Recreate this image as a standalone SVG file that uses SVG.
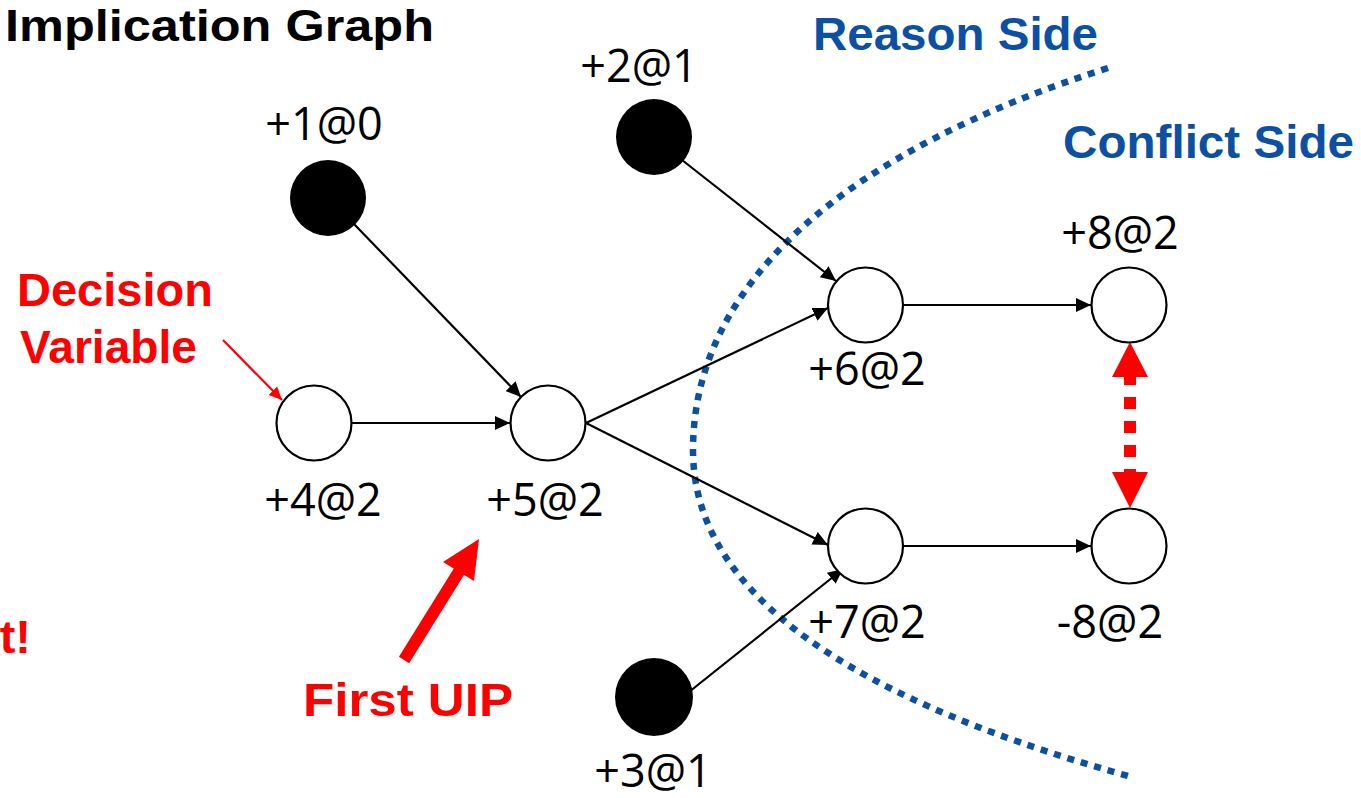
<svg xmlns="http://www.w3.org/2000/svg" width="1361" height="798" viewBox="0 0 1361 798">
<defs>
<marker id="ah" markerUnits="userSpaceOnUse" markerWidth="16" markerHeight="14" refX="15" refY="7" orient="auto">
<path d="M0,0 L15,7 L0,14 Z" fill="#000"/>
</marker>
<marker id="ahr" markerUnits="userSpaceOnUse" markerWidth="14" markerHeight="14" refX="13" refY="6" orient="auto">
<path d="M0,0 L13,6 L0,12 Z" fill="#ff0000"/>
</marker>
</defs>
<style>
.lbl{font-family:"Open Sans","Liberation Sans",sans-serif;font-size:45px;fill:#000;text-anchor:middle}
.red{font-family:"Liberation Sans",Arial,sans-serif;font-weight:bold;font-size:47px;fill:#ff0000}
.blue{font-family:"Liberation Sans",Arial,sans-serif;font-weight:bold;font-size:47px;fill:#0c50a4}
.title{font-family:"Liberation Sans",Arial,sans-serif;font-weight:bold;font-size:44px;fill:#000}
.wn{fill:#fff;stroke:#000;stroke-width:2.2}
.bn{fill:#000}
.edge{stroke:#000;stroke-width:2.2;fill:none;marker-end:url(#ah)}
</style>
<rect width="1361" height="798" fill="#fff"/>
<text class="title" x="5" y="41" textLength="429" lengthAdjust="spacingAndGlyphs">Implication Graph</text>
<text class="blue" x="813" y="50" textLength="285" lengthAdjust="spacingAndGlyphs">Reason Side</text>
<text class="blue" x="1063" y="158" textLength="291" lengthAdjust="spacingAndGlyphs">Conflict Side</text>
<text class="red" x="17" y="306" textLength="196" lengthAdjust="spacingAndGlyphs">Decision</text>
<text class="red" x="20" y="363" textLength="177" lengthAdjust="spacingAndGlyphs">Variable</text>
<text class="red" x="303" y="716" textLength="210" lengthAdjust="spacingAndGlyphs">First UIP</text>
<text class="red" x="31" y="653" text-anchor="end">t!</text>
<path id="cut" d="M1108,68 C850,150 693,280 693,450 C693,580 820,690 1128,776" fill="none" stroke="#0c50a4" stroke-width="6.5" stroke-dasharray="7 7"/>
<g id="connectors">
<line class="edge" x1="354" y1="224" x2="521" y2="397"/>
<line class="edge" x1="351" y1="423" x2="510" y2="423"/>
<line class="edge" x1="586" y1="423" x2="828" y2="308"/>
<line class="edge" x1="586" y1="423" x2="828" y2="545"/>
<line class="edge" x1="682" y1="160" x2="836" y2="281"/>
<line class="edge" x1="689" y1="692" x2="843" y2="569"/>
<line class="edge" x1="903" y1="305" x2="1091" y2="305"/>
<line class="edge" x1="903" y1="546" x2="1091" y2="546"/>
<line x1="223" y1="340" x2="282" y2="400" stroke="#ff0000" stroke-width="2.2" marker-end="url(#ahr)"/>
<g id="conflict" fill="#ff0000">
<line x1="1130" y1="373" x2="1130" y2="481" stroke="#ff0000" stroke-width="12" stroke-dasharray="12 12"/>
<polygon points="1130,342 1112,377 1148,377"/>
<polygon points="1130,508 1112,472 1148,472"/>
</g>
<g id="uip" fill="#ff0000">
<line x1="404" y1="660" x2="460" y2="570" stroke="#ff0000" stroke-width="12"/>
<polygon points="479,539 474,581 443,562"/>
</g>
</g>
<g id="n1"><circle class="bn" cx="328" cy="198" r="38"/><text class="lbl" x="324" y="140">+1@0</text></g>
<g id="n2"><circle class="bn" cx="654" cy="137" r="38"/><text class="lbl" x="639" y="82">+2@1</text></g>
<g id="n3"><circle class="bn" cx="654" cy="697" r="39"/><text class="lbl" x="653" y="787">+3@1</text></g>
<g id="n4"><circle class="wn" cx="314" cy="423" r="37.5"/><text class="lbl" x="323" y="516">+4@2</text></g>
<g id="n5"><circle class="wn" cx="548" cy="423" r="37.5"/><text class="lbl" x="545" y="516">+5@2</text></g>
<g id="n6"><circle class="wn" cx="865.5" cy="305" r="37.5"/><text class="lbl" x="867" y="385">+6@2</text></g>
<g id="n7"><circle class="wn" cx="865.5" cy="546" r="37.5"/><text class="lbl" x="867" y="638">+7@2</text></g>
<g id="n8"><circle class="wn" cx="1129" cy="305" r="37.5"/><text class="lbl" x="1120" y="249">+8@2</text></g>
<g id="n8n"><circle class="wn" cx="1129" cy="546" r="37.5"/><text class="lbl" x="1110" y="638">-8@2</text></g>
</svg>
